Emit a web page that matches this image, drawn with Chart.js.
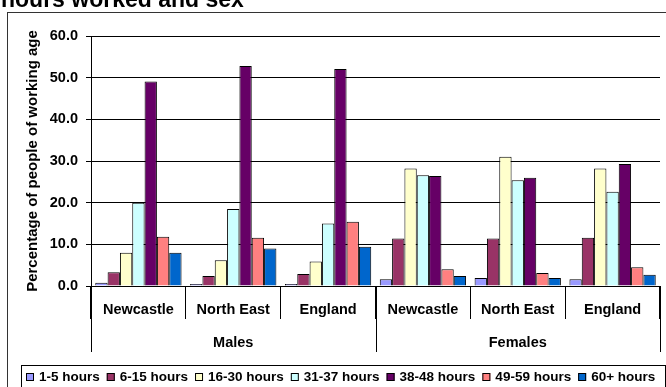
<!DOCTYPE html>
<html>
<head>
<meta charset="utf-8">
<script src="https://cdn.jsdelivr.net/npm/chart.js@4.4.1/dist/chart.umd.min.js"></script>
<style>
  body { margin: 0; background: #fff; }
  #wrap { position: relative; width: 666px; height: 387px; overflow: hidden; }
</style>
</head>
<body>
<div id="wrap"><canvas id="grafico" width="666" height="387"></canvas></div>
<script>
const categorias = ["Newcastle", "North East", "England", "Newcastle", "North East", "England"];
const grupos = ["Males", "Females"];
const bandas = ["1-5 hours", "6-15 hours", "16-30 hours", "31-37 hours", "38-48 hours", "49-59 hours", "60+ hours"];
const colores = ["#9999FF", "#993366", "#FFFFCC", "#CCFFFF", "#660066", "#FF8080", "#0066CC"];

const horas1a5 = [0.8, 0.5, 0.5, 1.6, 1.9, 1.6];
const horas6a15 = [3.3, 2.4, 2.9, 11.4, 11.4, 11.6];
const horas16a30 = [8.0, 6.2, 5.9, 28.2, 31.0, 28.2];
const horas31a37 = [20.0, 18.5, 15.0, 26.6, 25.4, 22.6];
const horas38a48 = [49.1, 52.8, 52.1, 26.4, 26.0, 29.3];
const horas49a59 = [11.8, 11.6, 15.4, 4.0, 3.1, 4.5];
const horas60mas = [8.0, 9.0, 9.4, 2.4, 1.9, 2.7];
const yTicks = [0, 10, 20, 30, 40, 50, 60];

const series = [horas1a5, horas6a15, horas16a30, horas31a37, horas38a48, horas49a59, horas60mas];
const fuente = "'Liberation Sans', Arial, sans-serif";

// titulo cortado, borde, etiquetas de categoria/grupo y leyenda
const extras = {
  id: "extras",
  afterDraw(chart) {
    const ctx = chart.ctx;
    const x = chart.scales.x;
    const top = chart.chartArea.bottom;
    ctx.save();
    ctx.fillStyle = "#000";
    ctx.font = "bold 23px " + fuente;
    ctx.textAlign = "left";
    ctx.textBaseline = "alphabetic";
    ctx.fillText("hours worked and sex", 1, 7);

    ctx.strokeStyle = "#333";
    ctx.lineWidth = 1;
    ctx.strokeRect(7.5, 12.5, 700, 400);

    // etiquetas de categoria
    ctx.font = "bold 14.5px " + fuente;
    ctx.textAlign = "center";
    ctx.textBaseline = "middle";
    categorias.forEach(function (c, i) {
      ctx.fillText(c, x.getPixelForValue(i), top + 24);
    });

    // separadores largos y nombres de grupo
    const ancho = (x.right - x.left) / categorias.length;
    ctx.strokeStyle = "#000";
    for (let g = 0; g <= grupos.length; g++) {
      const px = Math.round(x.left + g * 3 * ancho) + 0.5;
      ctx.beginPath();
      ctx.moveTo(px, top);
      ctx.lineTo(px, top + 66);
      ctx.stroke();
    }
    grupos.forEach(function (g, i) {
      ctx.fillText(g, x.left + (i * 3 + 1.5) * ancho, top + 57);
    });

    // leyenda
    ctx.strokeRect(21.5, 365.5, 644, 40);
    ctx.font = "bold 13.5px " + fuente;
    ctx.textAlign = "left";
    let lx = 26;
    bandas.forEach(function (b, i) {
      ctx.fillStyle = colores[i];
      ctx.fillRect(lx, 373, 8, 8);
      ctx.strokeStyle = "#000";
      ctx.strokeRect(lx + 0.5, 373.5, 7, 7);
      ctx.fillStyle = "#000";
      ctx.fillText(b, lx + 13, 377);
      lx += 13 + ctx.measureText(b).width + 7;
    });
    ctx.restore();
  },
};

const datasets = bandas.map(function (b, i) {
  return {
    label: b,
    data: series[i],
    backgroundColor: colores[i],
    borderColor: "#000",
    borderWidth: 1,
    barPercentage: 1,
    categoryPercentage: 0.91,
  };
});

const chart = new Chart(document.getElementById("grafico"), {
  type: "bar",
  data: { labels: categorias, datasets: datasets },
  options: {
    responsive: false,
    animation: false,
    layout: { padding: { top: 36, right: 6, bottom: 35, left: 0 } },
    plugins: {
      legend: { display: false },
      tooltip: { enabled: false },
    },
    scales: {
      x: {
        grid: {
          offset: true,
          drawOnChartArea: false,
          drawTicks: true,
          tickLength: 33,
          color: "#000",
        },
        border: { display: true, color: "#000", width: 1 },
        ticks: { display: false },
        afterFit: function (scale) {
          scale.height = 66;
        },
      },
      y: {
        min: 0,
        max: 60,
        afterBuildTicks: function (scale) {
          scale.ticks = yTicks.map(function (v) { return { value: v }; });
        },
        grid: { color: "#000", lineWidth: 1, tickLength: 5 },
        border: { display: true, color: "#000", width: 1 },
        ticks: {
          color: "#000",
          padding: 8,
          font: { family: fuente, size: 14.5, weight: "bold" },
          callback: function (v) { return Number(v).toFixed(1); },
        },
        title: {
          display: true,
          text: "Percentage of people of working age",
          color: "#000",
          padding: { top: 24, bottom: 0 },
          font: { family: fuente, size: 15, weight: "bold" },
        },
        afterFit: function (scale) {
          scale.width = 91;
        },
      },
    },
  },
  plugins: [extras],
});
</script>
</body>
</html>
